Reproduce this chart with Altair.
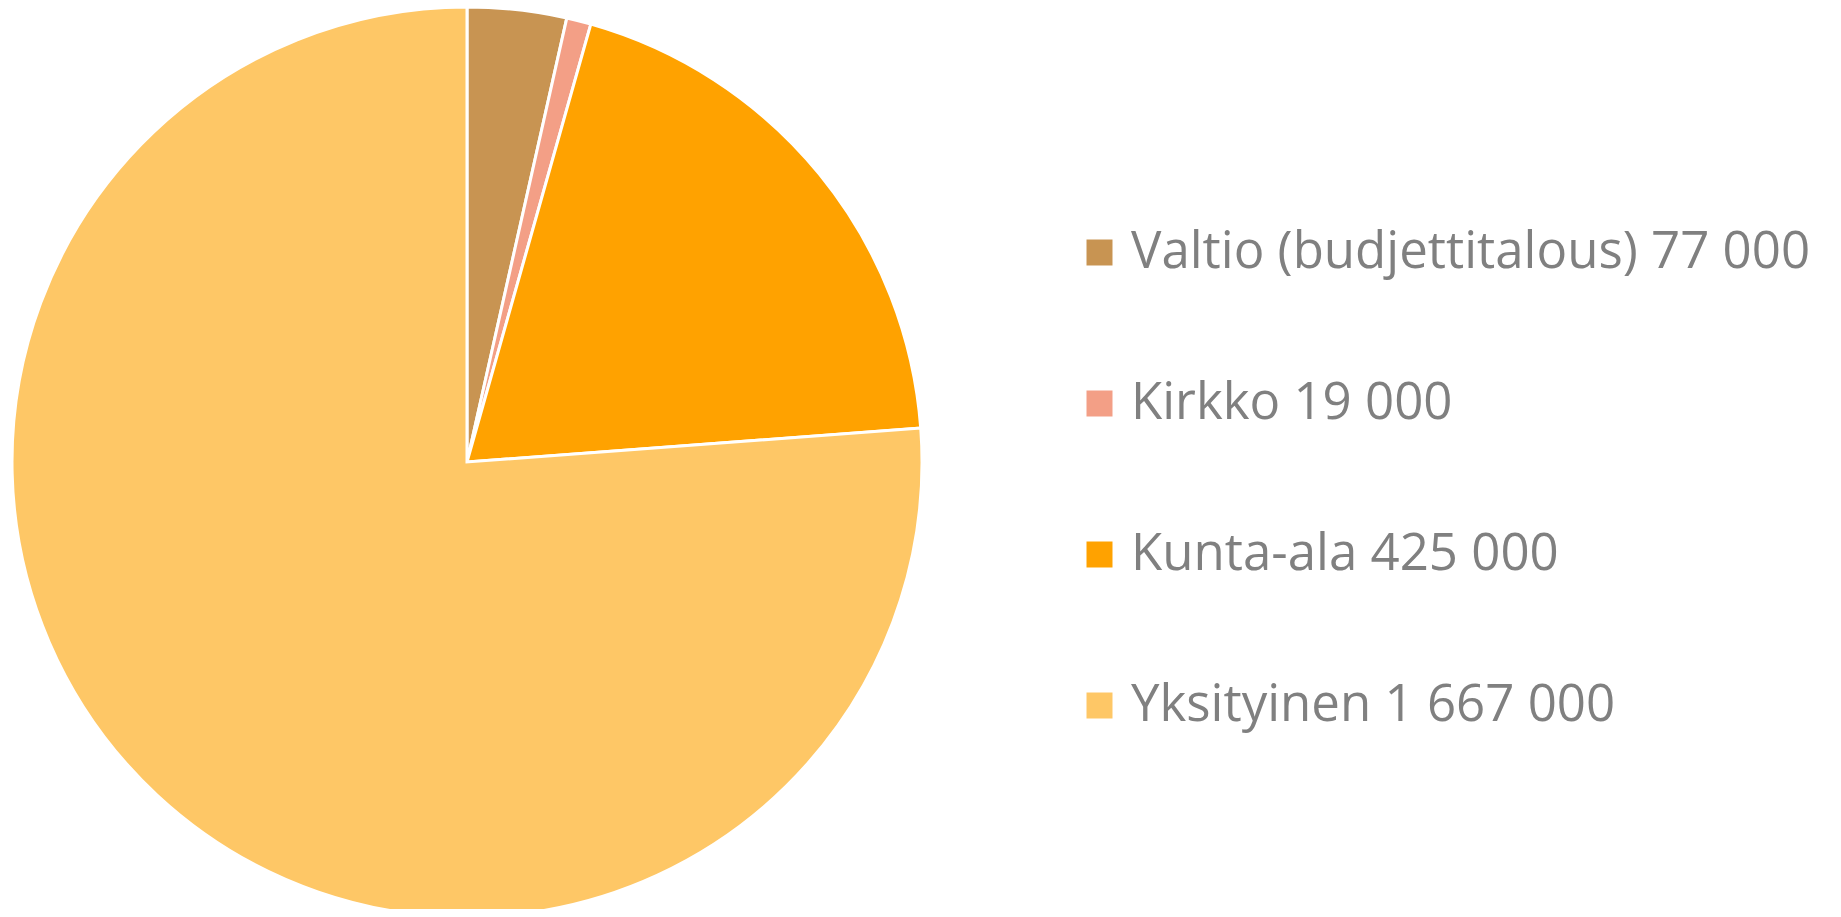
import altair as alt
import pandas as pd

categories = ["Valtio (budjettitalous)", "Kirkko", "Kunta-ala", "Yksityinen"]
value_labels = ["77 000", "19 000", "425 000", "1 667 000"]
values = [77000, 19000, 425000, 1667000]
colors = ["#C89452", "#F39F86", "#FFA200", "#FEC766"]

labels = [f"{c} {v}" for c, v in zip(categories, value_labels)]
df = pd.DataFrame({"label": labels, "value": values, "idx": list(range(len(values)))})

chart = alt.Chart(df).mark_arc(
    outerRadius=455, stroke="white", strokeWidth=3
).encode(
    x=alt.value(459),
    y=alt.value(454),
    theta=alt.Theta("value:Q", stack=True),
    order=alt.Order("idx:Q"),
    color=alt.Color(
        "label:N",
        scale=alt.Scale(domain=labels, range=colors),
        legend=alt.Legend(
            title=None,
            orient="none",
            legendX=1066,
            legendY=219,
            symbolType="square",
            symbolSize=676,
            symbolStrokeWidth=0,
            labelFontSize=51,
            labelFont="Open Sans",
            labelColor="#808080",
            labelOffset=6,
            rowPadding=99,
            labelLimit=0,
        ),
    ),
).properties(
    width=1825, height=901, padding=0, autosize=alt.AutoSizeParams(type="none")
).configure_view(stroke=None)

chart.save("out.html", embed_options={"renderer": "svg", "actions": False})
